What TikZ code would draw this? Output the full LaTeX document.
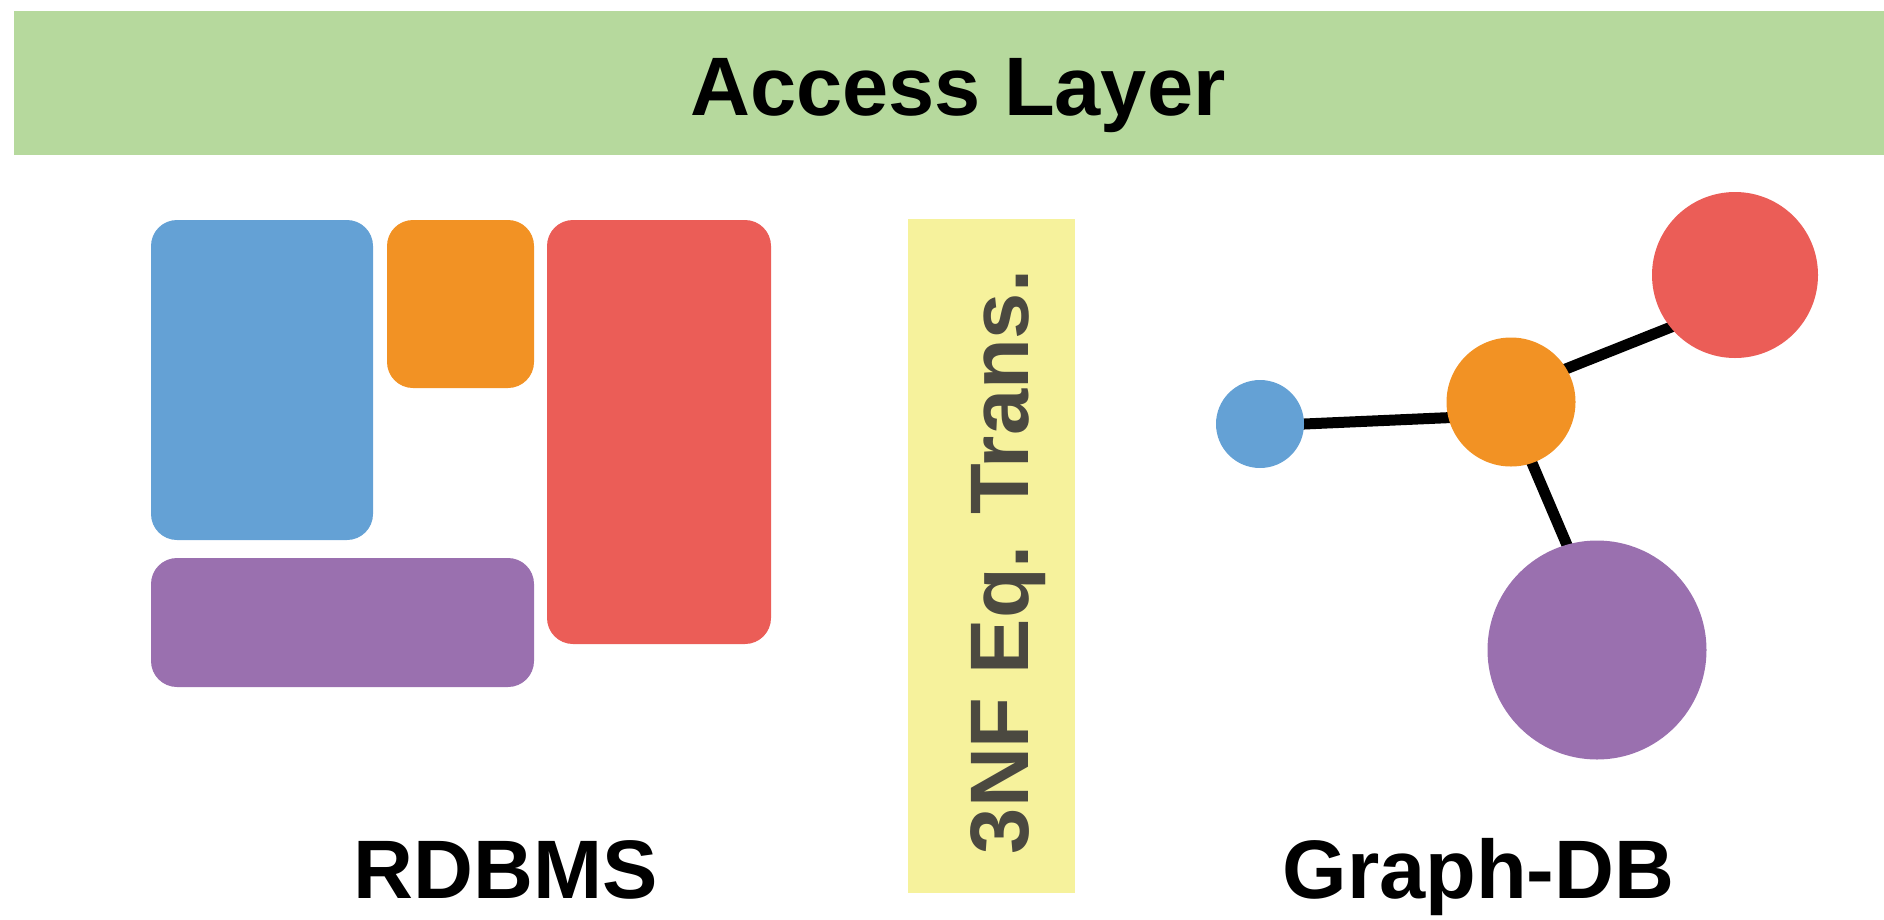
\documentclass[tikz,border=0pt]{standalone}
\usepackage{fontspec}
\setmainfont{Liberation Sans}
\usetikzlibrary{backgrounds}
\definecolor{cgreen}{HTML}{B6D99D}
\definecolor{cblue}{HTML}{64A1D5}
\definecolor{corange}{HTML}{F29224}
\definecolor{cred}{HTML}{EB5D57}
\definecolor{cpurple}{HTML}{9A70AF}
\definecolor{cyellow}{HTML}{F6F29C}
\definecolor{ctext}{HTML}{4B4940}
\tikzset{
  tbl/.style={rounded corners=26pt, inner sep=0pt},
  gnode/.style={circle, inner sep=0pt},
  gedge/.style={line width=11pt, draw=black, shorten <=-8pt, shorten >=-8pt},
  lbl/.style={font=\bfseries\fontsize{83}{90}\selectfont, inner sep=0pt, anchor=base}
}
\begin{document}
\begin{tikzpicture}[x=1pt,y=-1pt]
\useasboundingbox (0,0) rectangle (1884,919);
% access layer bar
\node[fill=cgreen, minimum width=1870pt, minimum height=144pt, inner sep=0pt] (bar) at (949,83) {};
\node[lbl] (access) at (958,115) {Access Layer};
% RDBMS tables
\node[tbl, fill=cblue, minimum width=222pt, minimum height=320pt] (tblue) at (262,380) {};
\node[tbl, fill=corange, minimum width=147pt, minimum height=168pt] (torange) at (460.5,304) {};
\node[tbl, fill=cred, minimum width=224pt, minimum height=424pt] (tred) at (659,432) {};
\node[tbl, fill=cpurple, minimum width=383pt, minimum height=129pt] (tpurple) at (342.5,622.5) {};
\node[lbl] (rdbms) at (505.5,898) {RDBMS};
% middle band
\node[fill=cyellow, minimum width=167pt, minimum height=674pt, inner sep=0pt] (band) at (991,556) {};
\node[lbl, text=ctext, rotate=90] (trans) at (1028,562) {3NF Eq. Trans.};
% graph
\node[gnode, fill=cblue, minimum size=88pt] (gblue) at (1260,424) {};
\node[gnode, fill=corange, minimum size=129pt] (gorange) at (1511,402) {};
\node[gnode, fill=cred, minimum size=166pt] (gred) at (1735,275) {};
\node[gnode, fill=cpurple, minimum size=219pt] (gpurple) at (1597,650) {};
\begin{scope}[on background layer]
\draw[gedge] (gblue.0) -- (gorange.194);
\draw[gedge] (gorange.31) -- (gred.219);
\draw[gedge] (gorange.-71) -- (gpurple.106);
\end{scope}
\node[lbl] (graphdb) at (1478.5,898) {Graph-DB};
\end{tikzpicture}
\end{document}
